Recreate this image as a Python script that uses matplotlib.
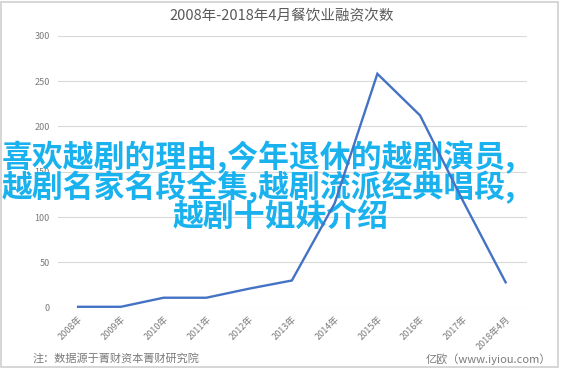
import matplotlib
matplotlib.use("Agg")
import matplotlib.pyplot as plt
from matplotlib.patches import Rectangle

plt.rcParams['font.family'] = ['Noto Sans CJK SC', 'DejaVu Sans']

categories = ["2008年", "2009年", "2010年", "2011年", "2012年", "2013年",
              "2014年", "2015年", "2016年", "2017年", "2018年4月"]
values = [1, 1, 11, 11, 21, 30, 115, 258, 212, 118, 28]
yticks = [0, 50, 100, 150, 200, 250, 300]
title = "2008年-2018年4月餐饮业融资次数"
overlay_lines = ["喜欢越剧的理由,今年退休的越剧演员,",
                 "越剧名家名段全集,越剧流派经典唱段,",
                 "越剧十姐妹介绍"]
note = "注：数据源于菁财资本菁财研究院"
source = "亿欧（www.iyiou.com）"

W, H = 563, 370
fig = plt.figure(figsize=(W / 100, H / 100), dpi=100)
fig.patch.set_facecolor('white')

# axes placement in pixels
left, right, top, bottom = 58, 527, 35.7, 307.7
ax = fig.add_axes([left / W, 1 - bottom / H, (right - left) / W, (bottom - top) / H])
ax.set_facecolor('none')
x = list(range(len(categories)))
ax.plot(x, values, color='#4472C4', lw=1.7, zorder=3, solid_joinstyle='miter')
ax.set_xlim(-0.47, 10.5)
ax.set_ylim(0, 300)
ax.set_yticks(yticks)
ax.set_yticklabels([str(v) for v in yticks], fontsize=6.5, color='#7a7a7a')
ax.set_xticks(x)
ax.set_xticklabels(categories, fontsize=6.5, color='#7a7a7a', rotation=45,
                   ha='right', va='top', rotation_mode='anchor')
ax.tick_params(axis='both', length=0)
ax.tick_params(axis='y', pad=6)
ax.tick_params(axis='x', pad=5)
for s in ax.spines.values():
    s.set_visible(False)
ax.grid(axis='y', color='#d9d9d9', lw=0.8, zorder=0)
ax.set_axisbelow(True)

fig.text(0.5, 1 - 16 / H, title, ha='center', va='center', fontsize=10.5, color='#595959')

# overlay text (under the line)
pos = [(2, 157, 'left'), (2, 187, 'left'), (281, 217, 'center')]
for ln, (px, py, ha) in zip(overlay_lines, pos):
    ax.text(px / W, 1 - py / H, ln, transform=fig.transFigure, ha=ha, va='center',
            fontsize=22.2, fontweight='bold', color='#1ab2ee', zorder=2, clip_on=False)

fig.text(33 / W, 1 - 358 / H, note, ha='left', va='center', fontsize=8, color='#7a7a7a')
fig.text(551 / W, 1 - 359 / H, source, ha='right', va='center', fontsize=8, color='#7a7a7a')

# frame border
fig.patches.append(Rectangle((1 / W, 1 - 367 / H), 556.5 / W, 365.5 / H, transform=fig.transFigure,
                             fill=False, edgecolor='#d0d0d0', lw=1.2))

fig.savefig('out.png', dpi=100, facecolor='white')
